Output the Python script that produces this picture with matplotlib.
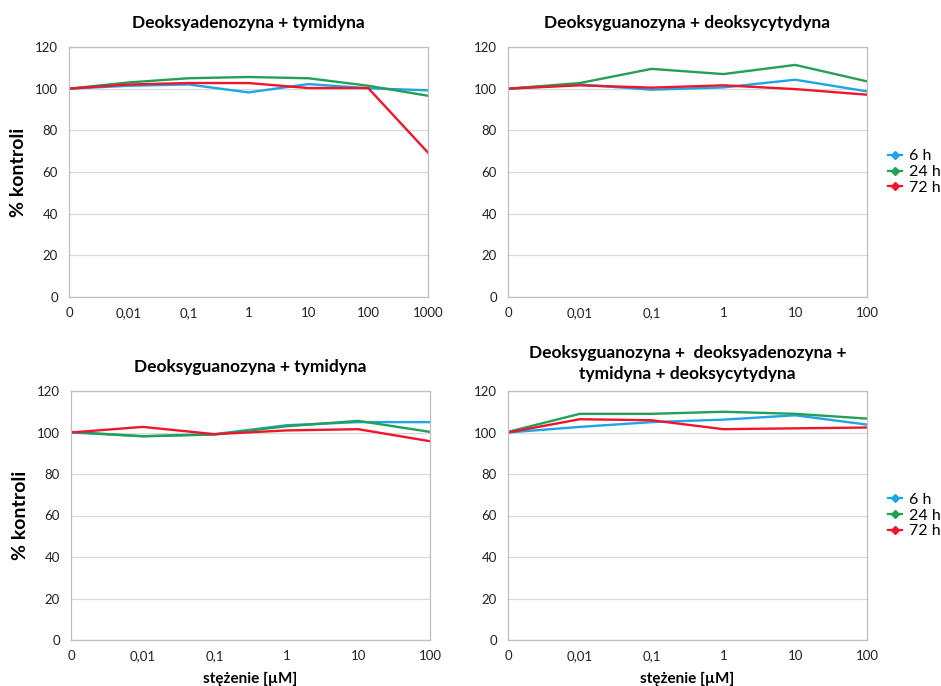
import matplotlib
matplotlib.use('Agg')
from matplotlib import pyplot as plt
from matplotlib.lines import Line2D

plt.rcParams['font.family'] = ['Lato', 'DejaVu Sans']

# category labels on the x axis
conc_long = ['0', '0,01', '0,1', '1', '10', '100', '1000']
conc_short = ['0', '0,01', '0,1', '1', '10', '100']
series_names = ['6 h', '24 h', '72 h']
colors = ['#1EA5E6', '#22A055', '#F0142D']

# panel 1: deoksyadenozyna + tymidyna
da_t_6h = [100, 101.4, 102, 98.2, 102.2, 100.2, 99.2]
da_t_24h = [100, 103, 105, 105.6, 105, 101.4, 96.6]
da_t_72h = [100, 102, 102.7, 102.7, 100.3, 100.3, 69.3]

# panel 2: deoksyguanozyna + deoksycytydyna
dg_dc_6h = [100, 102, 99.5, 100.6, 104.3, 98.7]
dg_dc_24h = [100, 102.7, 109.5, 107, 111.4, 103.5]
dg_dc_72h = [100, 101.6, 100.5, 101.6, 99.8, 97.1]

# panel 3: deoksyguanozyna + tymidyna
dg_t_6h = [100, 98.2, 99.2, 103.5, 105, 105]
dg_t_24h = [100.3, 98.2, 99, 103, 105.6, 100.3]
dg_t_72h = [100, 102.7, 99.2, 101, 101.6, 95.8]

# panel 4: all four
all_6h = [100, 102.7, 105, 106.2, 108.3, 103.8]
all_24h = [100.3, 109, 109, 110, 109, 106.7]
all_72h = [100, 106.4, 105.9, 101.6, 102, 102.4]

panels = [
    ('Deoksyadenozyna + tymidyna', conc_long, [da_t_6h, da_t_24h, da_t_72h]),
    ('Deoksyguanozyna + deoksycytydyna', conc_short, [dg_dc_6h, dg_dc_24h, dg_dc_72h]),
    ('Deoksyguanozyna + tymidyna', conc_short, [dg_t_6h, dg_t_24h, dg_t_72h]),
    ('Deoksyguanozyna +  deoksyadenozyna +\ntymidyna + deoksycytydyna', conc_short,
     [all_6h, all_24h, all_72h]),
]

W, H = 941, 686
# axes boxes in pixels: left, top, right, bottom
boxes = [(69, 47, 428, 297), (508, 47, 867, 297),
         (71, 391, 430, 640), (508, 391, 867, 640)]

fig = plt.figure(figsize=(W / 100, H / 100), dpi=100)

for i, (title, cats, data) in enumerate(panels):
    l, t, r, b = boxes[i]
    ax = fig.add_axes([l / W, 1 - b / H, (r - l) / W, (b - t) / H])
    x = list(range(len(cats)))
    for vals, c in zip(data, colors):
        ax.plot(x, vals, color=c, lw=1.7)
    ax.set_xlim(0, len(cats) - 1)
    ax.set_ylim(0, 120)
    ax.set_yticks(range(0, 121, 20))
    ax.set_xticks(x)
    ax.set_xticklabels(cats)
    ax.tick_params(axis='both', labelsize=9.5, colors='#222222', length=0)
    ax.tick_params(axis='y', pad=8)
    ax.tick_params(axis='x', pad=7)
    ax.grid(axis='y', color='#D9D9D9', lw=0.9)
    ax.set_axisbelow(True)
    for s in ax.spines.values():
        s.set_color('#BFBFBF')
        s.set_linewidth(0.9)
    if '\n' in title:
        ax.set_title(title, fontsize=12.5, fontweight='bold', pad=9, linespacing=1.35)
    else:
        ax.set_title(title, fontsize=12.5, fontweight='bold', pad=14)
    if i % 2 == 0:
        ax.set_ylabel('% kontroli', fontsize=14, fontweight='bold', labelpad=6)
    if i >= 2:
        ax.set_xlabel('stężenie [µM]', fontsize=11, fontweight='bold', labelpad=7)
    if i % 2 == 1:
        handles = [Line2D([0], [0], color=c, lw=1.6, marker='D', markersize=4.5)
                   for c in colors]
        ax.legend(handles, series_names, loc='center left', bbox_to_anchor=(1.0, 0.5),
                  frameon=False, fontsize=11.5, handlelength=0.9, handletextpad=0.4,
                  labelspacing=0.1, borderaxespad=0.9)

fig.savefig('out.png', dpi=100)
